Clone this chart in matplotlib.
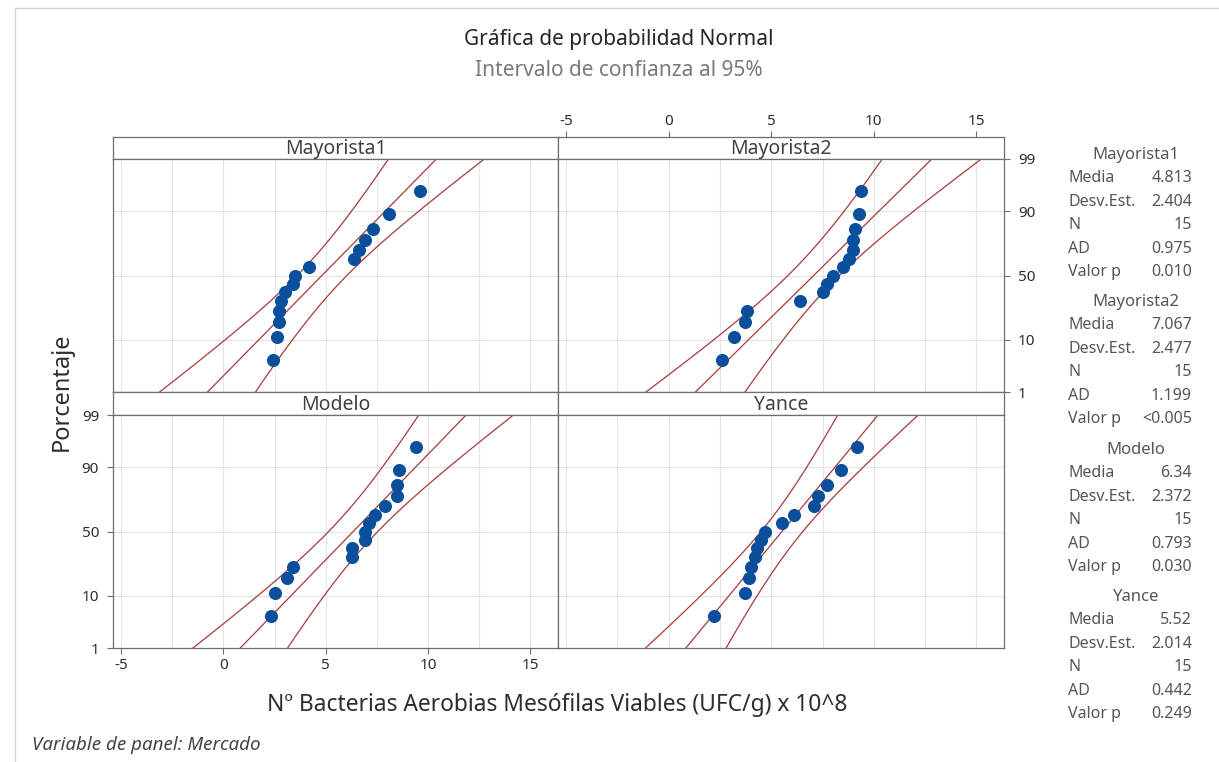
import numpy as np
import matplotlib
matplotlib.use("Agg")
import matplotlib.pyplot as plt
from matplotlib.lines import Line2D
from statistics import NormalDist

plt.rcParams["font.family"] = ["Noto Sans", "DejaVu Sans"]
plt.rcParams["axes.unicode_minus"] = False

# ---- datos (ordenados) ----
mercados = ["Mayorista1", "Mayorista2", "Modelo", "Yance"]
mayorista1 = [2.4, 2.6, 2.7, 2.7, 2.8, 3.0, 3.4, 3.5, 4.2, 6.4, 6.6, 6.9, 7.3, 8.1, 9.6]
mayorista2 = [2.6, 3.2, 3.7, 3.8, 6.4, 7.5, 7.7, 8.0, 8.5, 8.8, 9.0, 9.0, 9.1, 9.3, 9.4]
modelo = [2.3, 2.5, 3.1, 3.4, 6.3, 6.3, 6.9, 6.9, 7.1, 7.4, 7.9, 8.5, 8.5, 8.6, 9.4]
yance = [2.2, 3.7, 3.9, 4.0, 4.2, 4.3, 4.5, 4.7, 5.5, 6.1, 7.1, 7.3, 7.7, 8.4, 9.2]
series = [mayorista1, mayorista2, modelo, yance]

# ---- tabla de estadisticos (leyenda) ----
media = ["4.813", "7.067", "6.34", "5.52"]
desv_est = ["2.404", "2.477", "2.372", "2.014"]
n_obs = ["15", "15", "15", "15"]
ad = ["0.975", "1.199", "0.793", "0.442"]
valor_p = ["0.010", "<0.005", "0.030", "0.249"]
stat_names = ["Media", "Desv.Est.", "N", "AD", "Valor p"]

pct_ticks = [1, 10, 50, 90, 99]
x_ticks = [-5, 0, 5, 10, 15]

W, H = 1219, 762
RED = "#a83a3a"
BLUE = "#0b4f9c"
SPINE = "#6e6e6e"
GRID = "#e4e4e4"
TXT = "#2e2e2e"
STAT = "#555555"

nd = NormalDist()
z_ticks = [nd.inv_cdf(p / 100) for p in pct_ticks]
XLIM = (-5.4, 16.35)
YLIM = (z_ticks[0], z_ticks[-1])

fig = plt.figure(figsize=(W / 100, H / 100), dpi=100)


def ax_px(l, t, r, b):
    return fig.add_axes([l / W, 1 - b / H, (r - l) / W, (b - t) / H])


def style(ax):
    for s in ax.spines.values():
        s.set_color(SPINE)
        s.set_linewidth(0.9)
    ax.tick_params(colors=SPINE, labelcolor=TXT, labelsize=11, length=4, width=0.8)
    ax.set_xticks([])
    ax.set_yticks([])


# posiciones de paneles (px): columnas y filas
cols = [(113, 558), (558, 1004)]
rows = [(137, 159, 392), (392, 415, 648)]   # strip top, plot top, plot bottom

for k, (name, vals) in enumerate(zip(mercados, series)):
    r, c = divmod(k, 2)
    l, rr = cols[c]
    st, pt, pb = rows[r]

    strip = ax_px(l, st, rr, pt)
    style(strip)
    strip.set_xlim(XLIM)
    strip.text(0.5, 0.45, name, transform=strip.transAxes, ha="center",
               va="center", fontsize=14, color="#404040")

    ax = ax_px(l, pt, rr, pb)
    style(ax)
    ax.set_xlim(XLIM)
    ax.set_ylim(YLIM)
    for gx in np.arange(-5, 16, 2.5):
        ax.axvline(gx, color=GRID, lw=0.8, zorder=0)
    for gz in z_ticks[1:-1]:
        ax.axhline(gz, color=GRID, lw=0.8, zorder=0)

    x = np.array(vals, dtype=float)
    n = len(x)
    pp = (np.arange(1, n + 1) - 0.3) / (n + 0.4)
    zz = np.array([nd.inv_cdf(p) for p in pp])

    m, s = float(media[k]), float(desv_est[k])
    zl = np.linspace(YLIM[0] - 0.2, YLIM[1] + 0.2, 200)
    fit = m + s * zl
    half = 1.96 * s * np.sqrt((1 + zl ** 2 / 2) / n)
    for line in (fit - half, fit, fit + half):
        ax.plot(line, zl, color=RED, lw=0.9, zorder=2)
    ax.plot(x, zz, "o", color=BLUE, ms=8.4, mec=BLUE, zorder=3)

    if k == 1:
        strip.xaxis.tick_top()
        strip.set_xticks(x_ticks)
        strip.tick_params(axis="x", pad=2)
        ax.yaxis.tick_right()
        ax.set_yticks(z_ticks)
        ax.set_yticklabels([str(p) for p in pct_ticks])
        ax.tick_params(axis="y", pad=6)
    if k == 2:
        ax.set_xticks(x_ticks)
        ax.set_yticks(z_ticks)
        ax.set_yticklabels([str(p) for p in pct_ticks])
        ax.tick_params(axis="x", pad=3)
        ax.tick_params(axis="y", pad=6)

# titulos y etiquetas
fig.text(619 / W, 1 - 40 / H, "Gráfica de probabilidad Normal", ha="center",
         va="center", fontsize=15, color="#262626")
fig.text(619 / W, 1 - 70 / H, "Intervalo de confianza al 95%", ha="center",
         va="center", fontsize=15, color="#7a7a7a")
fig.text(62 / W, 1 - 392 / H, "Porcentaje", rotation=90, ha="center",
         va="center", fontsize=17, color=TXT)
fig.text(557 / W, 1 - 705 / H,
         "Nº Bacterias Aerobias Mesófilas Viables (UFC/g) x 10^8",
         ha="center", va="center", fontsize=16.4, color=TXT)
fig.text(32 / W, 1 - 745 / H, "Variable de panel: Mercado", ha="left",
         va="center", fontsize=13.5, style="italic", color="#444444")

# tabla de estadisticos a la derecha
head_y = [155, 302, 450, 597]
for k, name in enumerate(mercados):
    y0 = head_y[k]
    fig.text(1136 / W, 1 - y0 / H, name, ha="center", va="center",
             fontsize=12, color=STAT)
    vals = [media[k], desv_est[k], n_obs[k], ad[k], valor_p[k]]
    for j, (lab, v) in enumerate(zip(stat_names, vals)):
        yy = y0 + 23.4 * (j + 1)
        fig.text(1068 / W, 1 - yy / H, lab, ha="left", va="center",
                 fontsize=11.5, color=STAT)
        fig.text(1192 / W, 1 - yy / H, v, ha="right", va="center",
                 fontsize=11.5, color=STAT)

# marco gris claro de la ventana
fig.add_artist(Line2D([15 / W, 1], [1 - 8 / H, 1 - 8 / H], color="#d4d4d4", lw=1))
fig.add_artist(Line2D([15 / W, 15 / W], [0, 1 - 8 / H], color="#d4d4d4", lw=1))

fig.savefig("out.png", dpi=100)
